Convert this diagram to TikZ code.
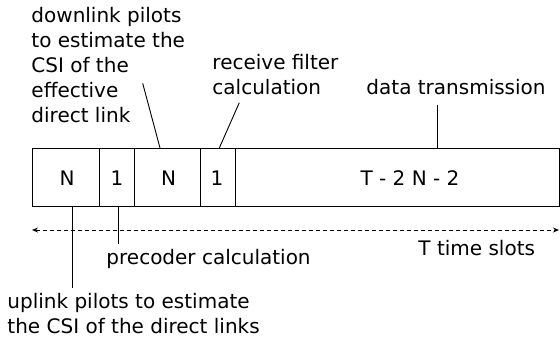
\documentclass[tikz,border=0pt]{standalone}
\usepackage{fontspec}
\setmainfont{DejaVu Sans}
\usetikzlibrary{arrows.meta}
\begin{document}
\begin{tikzpicture}[x=1pt, y=-1pt, line width=0.9pt,
  slot/.style={draw, minimum height=58pt, inner sep=0pt, outer sep=0pt},
  lbl/.style={inner sep=0pt, anchor=base west, align=left,
              font=\fontsize{20}{25}\selectfont},
  num/.style={inner sep=0pt, font=\fontsize{20}{25}\selectfont},
  spanarrow/.style={dash pattern=on 4pt off 3pt,
              {Stealth[length=6pt, width=5pt]}-{Stealth[length=6pt, width=5pt]}}]
\useasboundingbox (0,0) rectangle (560,342);

% frame of the coherence block
\node[slot, minimum width=67pt]  (s1) at (65.5,177) {};
\node[slot, minimum width=35pt]  (s2) at (116.5,177) {};
\node[slot, minimum width=66pt]  (s3) at (167,177) {};
\node[slot, minimum width=35pt]  (s4) at (217.5,177) {};
\node[slot, minimum width=324pt] (s5) at (397,177) {};

\node[num] (n1) at (67,178) {N};
\node[num] (n2) at (117,178) {1};
\node[num] (n3) at (168.5,178) {N};
\node[num] (n4) at (217,178) {1};
\node[num] (n5) at (410,178) {T - 2 N - 2};

% labels (a multi-line label sits on the baseline of its last line)
\node[lbl] (dl) at (31,123) {downlink pilots\\to estimate the\\CSI of the\\effective\\direct link};
\node[lbl] (rf) at (212,95) {receive filter\\calculation};
\node[lbl] (dt) at (366,95) {data transmission};
\node[lbl] (pc) at (106,264) {precoder calculation};
\node[lbl] (ts) at (418,255) {T time slots};
\node[lbl] (ul) at (7,333) {uplink pilots to estimate\\the CSI of the direct links};

% leader lines
\coordinate (dlE) at (142.7,83.3);
\coordinate (rfE) at (239.3,102.7);
\coordinate (dtE) at (437,105);
\coordinate (pcE) at (118.7,244);
\coordinate (ulE) at (72.7,288);
\draw (dlE) -- ([xshift=-7pt]s3.north);
\draw (rfE) -- ([xshift=1.8pt]s4.north);
\draw (dtE) -- (dtE |- s5.north);
\draw (pcE |- s2.south) -- (pcE);
\draw (ulE |- s1.south) -- (ulE);

% span of the block
\coordinate (aL) at (32,230);
\coordinate (aR) at (559,230);
\draw[spanarrow] (aL) -- (aR);
\end{tikzpicture}
\end{document}
